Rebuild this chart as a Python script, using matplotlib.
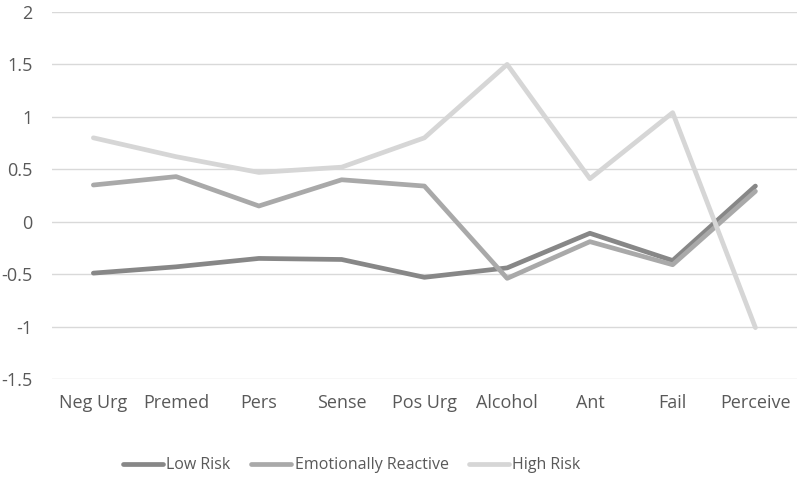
import matplotlib
matplotlib.use("Agg")
import matplotlib.pyplot as plt
import numpy as np

categories = ["Neg Urg", "Premed", "Pers", "Sense", "Pos Urg", "Alcohol", "Ant", "Fail", "Perceive"]
low_risk = [-0.49, -0.43, -0.35, -0.36, -0.53, -0.44, -0.11, -0.37, 0.34]
emotionally_reactive = [0.35, 0.43, 0.15, 0.40, 0.34, -0.54, -0.19, -0.41, 0.29]
high_risk = [0.80, 0.62, 0.47, 0.52, 0.80, 1.50, 0.41, 1.04, -1.01]
series_names = ["Low Risk", "Emotionally Reactive", "High Risk"]
colors = ["#878787", "#a9a9a9", "#d6d6d6"]
yticks = [-1.5, -1, -0.5, 0, 0.5, 1, 1.5, 2]
ytick_labels = ["-1.5", "-1", "-0.5", "0", "0.5", "1", "1.5", "2"]

plt.rcParams['font.family'] = ['Open Sans', 'DejaVu Sans']
fig = plt.figure(figsize=(8, 4.78), dpi=100)
ax = fig.add_axes([0.065, 0.207, 0.931, 0.768])

x = np.arange(len(categories))
for vals, name, c in zip([low_risk, emotionally_reactive, high_risk], series_names, colors):
    ax.plot(x, vals, color=c, lw=3.4, label=name, solid_capstyle='round', solid_joinstyle='round')

ax.set_xlim(-0.5, len(categories) - 0.5)
ax.set_ylim(-1.5, 2)
ax.set_yticks(yticks)
ax.set_yticklabels(ytick_labels)
ax.set_xticks(x)
ax.set_xticklabels(categories)
ax.yaxis.grid(True, color="#d9d9d9", lw=1)
ax.set_axisbelow(True)
for s in ax.spines.values():
    s.set_visible(False)
ax.tick_params(length=0, labelsize=13, labelcolor="#595959")
ax.tick_params(axis='x', pad=11)
ax.tick_params(axis='y', pad=14)

leg = fig.legend(loc='center', bbox_to_anchor=(0.44, 0.027), ncol=3, frameon=False,
                 fontsize=11.5, handlelength=2.5, columnspacing=1.3, handletextpad=0.2)
for t in leg.get_texts():
    t.set_color("#595959")

fig.savefig("out.png", dpi=100)
